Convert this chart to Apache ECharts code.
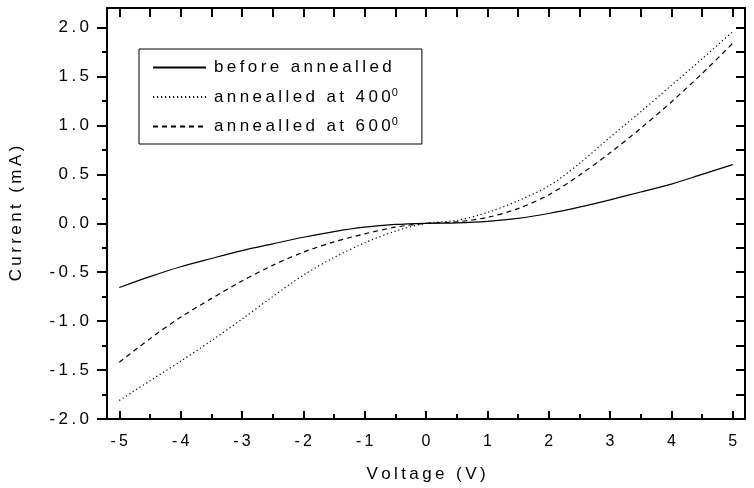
<!DOCTYPE html>
<html>
<head>
<meta charset="utf-8">
<script src="https://cdn.jsdelivr.net/npm/echarts@6/dist/echarts.min.js"></script>
<style>
  html, body { margin: 0; padding: 0; background: #fff; }
  #main { width: 754px; height: 488px; }
</style>
</head>
<body>
<div id="main"></div>
<script>
// values
const voltage = [-5, -4.5, -4, -3.5, -3, -2.5, -2, -1.5, -1, -0.5, 0, 0.5, 1, 1.5, 2, 2.5, 3, 3.5, 4, 4.5, 5];
const beforeAnnealled = [-0.656, -0.545, -0.444, -0.36, -0.279, -0.21, -0.143, -0.085, -0.04, -0.012, 0, 0.005, 0.02, 0.05, 0.10, 0.165, 0.24, 0.32, 0.40, 0.50, 0.60];
const annealled400 = [-1.81, -1.61, -1.41, -1.20, -0.98, -0.75, -0.53, -0.35, -0.20, -0.08, 0, 0.03, 0.11, 0.23, 0.38, 0.61, 0.88, 1.14, 1.41, 1.68, 1.96];
const annealled600 = [-1.42, -1.18, -0.96, -0.77, -0.59, -0.43, -0.295, -0.19, -0.108, -0.04, 0, 0.015, 0.06, 0.15, 0.29, 0.49, 0.72, 0.97, 1.24, 1.53, 1.84];
const seriesNames = ['before annealled', 'annealled at 400', 'annealled at 600'];

// tick positions
const xMajor = [-5, -4, -3, -2, -1, 0, 1, 2, 3, 4, 5];
const xMinor = [-4.5, -3.5, -2.5, -1.5, -0.5, 0.5, 1.5, 2.5, 3.5, 4.5];
const yMajor = [-2, -1.5, -1, -0.5, 0, 0.5, 1, 1.5, 2];
const yMinor = [-1.75, -1.25, -0.75, -0.25, 0.25, 0.75, 1.25, 1.75];
const xTop = xMajor.concat(xMinor);
const yRight = yMajor.concat(yMinor);

const font = 'Liberation Sans, Arial, sans-serif';
// the original text is widely letter-spaced
const spaced = s => String(s).split('').join('\u2009');

const chart = echarts.init(document.getElementById('main'));

const line = { color: '#000', width: 2 };
const xBase = { type: 'value', min: -5.2, max: 5.2, splitLine: { show: false } };
const yBase = { type: 'value', min: -2.0, max: 2.2, splitLine: { show: false } };

const option = {
  backgroundColor: '#fff',
  animation: false,
  textStyle: { fontFamily: font },
  grid: { left: 104, right: 9, top: 8, bottom: 63 },
  legend: {
    left: 139, top: 49,
    orient: 'vertical',
    padding: [10, 24, 9, 13],
    itemGap: 11,
    itemWidth: 53,
    itemHeight: 14,
    borderColor: '#000',
    borderWidth: 1,
    itemStyle: { opacity: 0 },
    data: seriesNames,
    formatter: (name) => {
      if (name.indexOf('at') > -1) return '{a|' + spaced(name) + '}{s|0}';
      return '{a|' + spaced(name) + '}';
    },
    textStyle: {
      fontFamily: font, fontSize: 17, color: '#000', padding: [0, 0, 0, 3],
      rich: {
        a: { fontFamily: font, fontSize: 17, color: '#000' },
        s: { fontFamily: font, fontSize: 11, color: '#000', padding: [0, 0, 9, 1] }
      }
    }
  },
  xAxis: [
    Object.assign({}, xBase, {
      position: 'bottom',
      name: spaced('Voltage (V)'),
      nameLocation: 'middle',
      nameGap: 47,
      nameTextStyle: { fontFamily: font, fontSize: 17, color: '#000' },
      axisLine: { show: true, onZero: false, lineStyle: line },
      axisTick: { show: true, inside: true, length: 8, customValues: xMajor, lineStyle: line },
      axisLabel: {
        show: true, margin: 15, customValues: xMajor,
        fontFamily: font, fontSize: 16, color: '#000',
        formatter: v => spaced(v)
      }
    }),
    Object.assign({}, xBase, {
      position: 'bottom',
      axisLine: { show: false, onZero: false },
      axisTick: { show: true, inside: true, length: 5, customValues: xMinor, lineStyle: line },
      axisLabel: { show: false }
    }),
    Object.assign({}, xBase, {
      position: 'top',
      axisLine: { show: true, onZero: false, lineStyle: line },
      axisTick: { show: true, inside: true, length: 9, customValues: xTop, lineStyle: line },
      axisLabel: { show: false }
    })
  ],
  yAxis: [
    Object.assign({}, yBase, {
      position: 'left',
      name: spaced('Current (mA)'),
      nameLocation: 'middle',
      nameGap: 82,
      nameTextStyle: { fontFamily: font, fontSize: 17, color: '#000' },
      axisLine: { show: true, onZero: false, lineStyle: line },
      axisTick: { show: true, inside: false, length: 10, customValues: yMajor, lineStyle: line },
      axisLabel: {
        show: true, margin: 18, customValues: yMajor,
        fontFamily: font, fontSize: 17, color: '#000',
        formatter: v => spaced(v.toFixed(1))
      }
    }),
    Object.assign({}, yBase, {
      position: 'left',
      axisLine: { show: false, onZero: false },
      axisTick: { show: true, inside: false, length: 5, customValues: yMinor, lineStyle: line },
      axisLabel: { show: false }
    }),
    Object.assign({}, yBase, {
      position: 'right',
      axisLine: { show: true, onZero: false, lineStyle: line },
      axisTick: { show: true, inside: true, length: 9, customValues: yRight, lineStyle: line },
      axisLabel: { show: false }
    })
  ],
  series: [
    {
      name: seriesNames[0], type: 'line', smooth: 0.3, symbol: 'none',
      data: voltage.map((v, i) => [v, beforeAnnealled[i]]),
      lineStyle: { color: '#000', width: 1.2, type: 'solid' },
      itemStyle: { color: '#000' }
    },
    {
      name: seriesNames[1], type: 'line', smooth: 0.3, symbol: 'none',
      data: voltage.map((v, i) => [v, annealled400[i]]),
      lineStyle: { color: '#000', width: 1.2, type: [1.2, 2.8] },
      itemStyle: { color: '#000' }
    },
    {
      name: seriesNames[2], type: 'line', smooth: 0.3, symbol: 'none',
      data: voltage.map((v, i) => [v, annealled600[i]]),
      lineStyle: { color: '#000', width: 1.2, type: [5, 4] },
      itemStyle: { color: '#000' }
    }
  ]
};

chart.setOption(option);
</script>
</body>
</html>
